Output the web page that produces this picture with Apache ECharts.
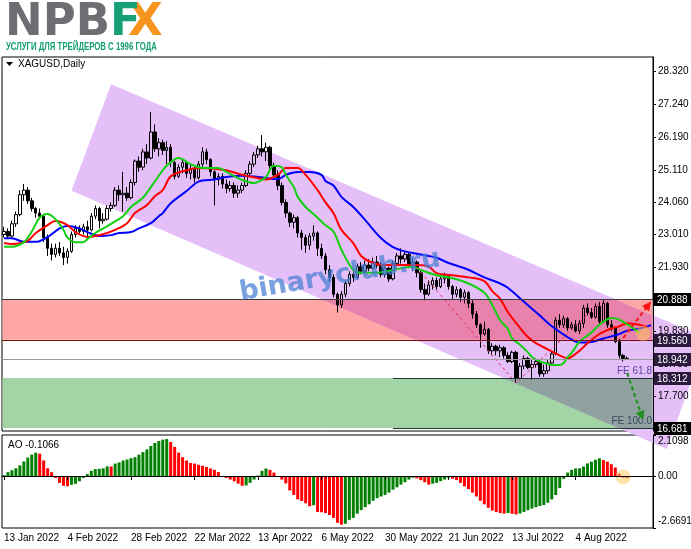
<!DOCTYPE html>
<html><head><meta charset="utf-8">
<script src="https://cdn.jsdelivr.net/npm/echarts/dist/echarts.min.js"></script>
<style>html,body{margin:0;padding:0;background:#fff}#c{width:691px;height:549px}</style>
</head><body><div id="c"></div><script>
// ---- categories: trading days
const monthDays = [
  ['Jan', [13,14,17,18,19,20,21,24,25,26,27,28,31]],
  ['Feb', [1,2,3,4,7,8,9,10,11,14,15,16,17,18,21,22,23,24,25,28]],
  ['Mar', [1,2,3,4,7,8,9,10,11,14,15,16,17,18,21,22,23,24,25,28,29,30,31]],
  ['Apr', [1,4,5,6,7,8,11,12,13,14,18,19,20,21,22,25,26,27,28,29]],
  ['May', [2,3,4,5,6,9,10,11,12,13,16,17,18,19,20,23,24,25,26,27,30,31]],
  ['Jun', [1,2,3,6,7,8,9,10,13,14,15,16,17,20,21,22,23,24,27,28,29,30]],
  ['Jul', [1,4,5,6,7,8,11,12,13,14,15,18,19,20,21,22,25,26,27,28,29]],
  ['Aug', [1,2,3,4,5,8,9,10,11,12,15,16,17,18,19,22,23,24,25,26,29,30,31]]
];
const dates = [];
monthDays.forEach(([m, days]) => days.forEach(d => dates.push(d + ' ' + m + ' 2022')));
const labelEvery = 16, lastLabel = 144;

// ---- OHLC (XAGUSD daily)
const opens = [
23.00,23.10,22.95,23.35,23.65,24.30,24.45,24.10,23.85,23.70,
23.60,22.90,22.55,22.35,22.55,22.40,22.25,22.45,23.00,23.20,
23.10,23.25,23.15,23.60,23.85,23.45,23.50,23.85,23.95,24.45,
24.30,24.35,24.20,24.70,25.40,25.20,25.70,25.50,26.35,25.80,
26.00,25.75,25.85,25.35,24.90,25.20,25.35,25.00,25.15,24.85,
25.30,25.70,25.45,25.05,24.80,24.90,24.65,24.50,24.60,24.35,
24.45,24.60,25.00,25.30,25.60,25.80,25.70,25.85,25.25,24.95,
24.60,24.05,23.70,23.40,23.55,23.05,22.90,22.65,22.95,23.05,
22.55,22.30,21.85,21.60,21.05,20.70,21.05,21.40,21.70,21.60,
21.95,21.80,22.00,21.90,22.10,22.00,21.70,21.90,21.55,22.05,
22.30,22.20,22.35,22.00,22.10,21.75,21.20,21.05,21.35,21.50,
21.30,21.55,21.65,21.30,21.05,21.20,20.95,21.10,20.75,20.40,
20.05,19.75,19.90,19.20,19.35,19.20,19.30,19.05,18.85,19.15,
18.30,18.70,18.95,18.65,18.75,18.85,18.45,18.55,18.80,19.10,
20.20,20.05,20.25,19.95,20.05,19.85,20.10,20.60,20.45,20.30,
20.65,20.15,20.75,20.05,19.95,19.50,19.05,18.95];
const closes = [
23.10,22.95,23.35,23.65,24.30,24.45,24.10,23.85,23.70,23.60,
22.90,22.55,22.35,22.55,22.40,22.25,22.45,23.00,23.20,23.10,
23.25,23.15,23.60,23.85,23.45,23.50,23.85,23.95,24.45,24.30,
24.35,24.20,24.70,25.40,25.20,25.70,25.50,26.35,25.80,26.00,
25.75,25.85,25.35,24.90,25.20,25.35,25.00,25.15,24.85,25.30,
25.70,25.45,25.05,24.80,24.90,24.65,24.50,24.60,24.35,24.45,
24.60,25.00,25.30,25.60,25.80,25.70,25.85,25.25,24.95,24.60,
24.05,23.70,23.40,23.55,23.05,22.90,22.65,22.95,23.05,22.55,
22.30,21.85,21.60,21.05,20.70,21.05,21.40,21.70,21.60,21.95,
21.80,22.00,21.90,22.10,22.00,21.70,21.90,21.55,22.05,22.30,
22.20,22.35,22.00,22.10,21.75,21.20,21.05,21.35,21.50,21.30,
21.55,21.65,21.30,21.05,21.20,20.95,21.10,20.75,20.40,20.05,
19.75,19.90,19.20,19.35,19.20,19.30,19.05,18.85,19.15,18.30,
18.70,18.95,18.65,18.75,18.85,18.45,18.55,18.80,19.10,20.20,
20.05,20.25,19.95,20.05,19.85,20.10,20.60,20.45,20.30,20.65,
20.15,20.75,20.05,19.95,19.50,19.05,18.95,18.942];
const lows = [
22.90,22.85,22.90,23.25,23.60,24.10,24.00,23.75,23.55,23.50,
22.75,22.30,22.15,22.25,22.30,22.00,22.05,22.40,22.90,23.00,
23.00,22.95,23.10,23.50,23.20,23.35,23.45,23.75,23.90,24.10,
23.75,24.10,24.15,24.60,25.05,25.10,25.30,25.45,25.70,25.55,
25.60,25.30,25.20,24.80,24.85,25.00,24.85,24.80,24.70,24.80,
25.20,25.30,24.90,23.95,24.60,24.50,24.35,24.40,24.20,24.20,
24.35,24.55,24.90,25.20,25.50,25.55,25.40,25.15,24.80,24.45,
23.95,23.55,23.25,23.20,22.90,22.50,22.40,22.50,22.80,22.30,
22.20,21.70,21.45,20.95,20.45,20.60,20.95,21.30,21.45,21.55,
21.70,21.75,21.80,21.85,21.90,21.60,21.60,21.45,21.50,21.95,
22.05,22.10,21.90,21.80,21.60,21.10,20.85,21.00,21.20,21.20,
21.25,21.40,21.20,20.90,20.95,20.80,20.75,20.60,20.25,19.95,
19.30,19.70,19.10,19.05,19.05,19.00,18.95,18.80,18.80,18.15,
18.25,18.60,18.60,18.25,18.65,18.35,18.35,18.45,18.75,19.05,
19.95,19.95,19.85,19.90,19.80,19.75,19.95,20.35,20.25,20.25,
20.05,20.10,19.95,19.85,19.45,18.95,18.85,18.90];
const highs = [
23.25,23.20,23.45,23.75,24.45,24.65,24.55,24.20,23.90,23.85,
23.65,23.00,22.70,22.70,22.75,22.60,22.55,23.10,23.30,23.30,
23.35,23.45,23.70,23.95,23.90,23.70,23.95,24.05,24.55,24.60,
25.05,24.55,24.80,25.45,25.55,25.80,25.95,27.00,26.60,26.15,
26.10,26.05,25.95,25.40,25.30,25.45,25.40,25.30,25.20,25.40,
25.85,25.80,25.50,25.10,25.00,25.00,24.80,24.75,24.70,24.60,
24.70,25.10,25.40,25.70,25.90,26.25,26.00,25.90,25.35,25.10,
24.70,24.15,23.75,23.65,23.60,23.15,23.00,23.05,23.30,23.10,
22.70,22.40,22.00,21.70,21.10,21.15,21.50,21.80,21.85,22.05,
22.10,22.15,22.20,22.25,22.30,22.10,22.05,21.95,22.15,22.40,
22.55,22.45,22.40,22.25,22.15,21.85,21.40,21.50,21.60,21.60,
21.65,21.75,21.70,21.35,21.30,21.25,21.20,21.15,20.85,20.50,
20.10,20.15,19.95,19.45,19.40,19.40,19.35,19.15,19.20,19.20,
18.80,19.05,19.00,18.90,18.95,18.90,18.75,18.90,19.20,20.30,
20.40,20.35,20.30,20.15,20.20,20.20,20.70,20.75,20.60,20.75,
20.80,20.85,20.80,20.20,20.00,19.60,19.10,19.02];

// ---- Alligator lines (bar index, value)
const lipsIdx = [0,2,5,7,9,11,13,15,16,18,20,21,23,25,27,30,32,35,37,40,41,44,47,49,52,54,56,60,63,64,66,68,70,71,73,74,76,79,81,83,85,88,90,94,98,100,103,105,109,113,117,121,123,125,127,128,130,132,133,135,137,138,140,141,142,143,145,148,150,153,155,158,160];
const lipsVal = [22.6,22.6,22.75,23.1,23.55,23.67,23.5,23.15,22.9,22.75,22.75,22.85,23.05,23.2,23.35,23.6,23.9,24.2,24.55,25.1,25.25,25.5,25.3,25.2,25.17,25.17,25.05,24.78,24.68,24.72,24.88,25.25,25.2,24.95,24.55,24.23,23.9,23.55,23.3,23.1,22.5,21.84,21.75,21.75,21.84,21.9,21.95,21.84,21.67,21.57,21.4,21.1,20.7,20.2,19.9,19.6,19.4,19.15,19.0,18.85,18.78,18.74,18.74,18.8,19.0,19.13,19.5,19.8,20.05,20.27,20.22,19.98,19.8];
const teethIdx = [0,2,6,8,11,13,16,18,21,23,26,28,31,33,36,38,40,42,46,49,53,56,60,64,66,69,71,74,76,79,81,83,85,88,90,93,96,100,104,107,109,113,117,121,123,125,127,130,132,134,137,140,142,144,145,147,150,153,155,157,160,162];
const teethVal = [22.72,22.69,22.8,23.05,23.31,23.44,23.31,23.08,22.92,22.95,23.05,23.15,23.37,23.7,23.96,24.25,24.45,24.9,25.1,25.17,25.15,25.1,24.95,24.84,24.8,24.95,25.17,25.17,24.95,24.45,24.05,23.7,23.15,22.72,22.3,22.07,22.0,22.0,22.0,21.95,21.74,21.67,21.6,21.48,21.15,20.9,20.45,19.95,19.65,19.45,19.25,19.05,18.95,19.1,19.2,19.45,19.75,19.93,20.0,20.1,20.05,19.97];
const jawIdx = [0,2,5,8,11,14,16,19,21,24,27,29,32,34,37,39,40,42,46,49,53,56,60,64,69,71,74,77,80,81,83,85,88,91,95,98,101,105,107,109,112,117,121,125,127,131,135,138,142,145,148,151,155,157,160,163];
const jawVal = [22.88,22.88,22.76,22.76,22.92,23.2,23.28,23.2,23.08,22.95,22.98,23.05,23.08,23.2,23.37,23.6,23.7,24.02,24.42,24.73,24.8,24.88,24.92,24.88,24.81,24.95,25.04,25.04,24.95,24.75,24.6,24.23,23.9,23.47,22.88,22.59,22.45,22.35,22.3,22.24,22.07,21.85,21.6,21.4,21.25,20.8,20.35,20.0,19.65,19.47,19.49,19.6,19.75,19.86,19.92,20.04];

// ---- Awesome Oscillator
const aoValues = [
0.05,0.2,0.3,0.4,0.55,0.75,0.95,1.1,1.2,1.15,
0.8,0.4,0.2,-0.1,-0.35,-0.5,-0.52,-0.45,-0.4,-0.27,
-0.1,0.1,0.27,0.36,0.37,0.4,0.5,0.49,0.64,0.7,
0.8,0.85,0.92,0.97,1.1,1.23,1.37,1.55,1.7,1.8,
1.87,1.9,1.75,1.5,1.2,0.97,0.8,0.67,0.64,0.58,
0.53,0.47,0.39,0.32,0.21,-0.02,-0.1,-0.18,-0.27,-0.39,
-0.5,-0.48,-0.35,-0.18,0.03,0.27,0.39,0.32,0.18,-0.02,
-0.18,-0.38,-0.74,-0.97,-1.2,-1.28,-1.4,-1.55,-1.5,-1.85,
-1.86,-1.9,-2.0,-2.15,-2.4,-2.5,-2.45,-2.25,-2.15,-1.93,
-1.75,-1.6,-1.45,-1.27,-1.14,-1.05,-0.97,-0.85,-0.7,-0.58,
-0.44,-0.32,-0.18,-0.09,-0.12,-0.21,-0.32,-0.44,-0.39,-0.35,
-0.26,-0.18,-0.09,-0.14,-0.21,-0.35,-0.53,-0.67,-0.85,-1.05,
-1.27,-1.45,-1.63,-1.77,-1.85,-1.9,-1.93,-1.9,-1.94,-1.97,
-1.92,-1.84,-1.75,-1.67,-1.6,-1.54,-1.49,-1.37,-1.2,-0.97,
-0.62,-0.14,0.18,0.32,0.39,0.4,0.49,0.65,0.74,0.84,
0.91,0.82,0.74,0.61,0.44,0.12,-0.09,-0.1066];

// ---- axis ticks
const priceTicks = [28.32, 27.24, 26.19, 25.11, 24.06, 23.01, 21.93, 19.83, 18.75, 17.70];
const aoMax = 2.1098, aoMin = -2.6691;
const aoTicks = [aoMax, 0, aoMin];

// ---- drawing objects (bar index, price)
const levelPrices = [20.888, 19.560, 18.942, 18.312, 16.681];
const levelStart = [0, 0, 0, 98, 98];
const levelText = ['', '', '', 'FE 61.8', 'FE 100.0'];
const zoneLow = [19.560, 16.681];
const zoneHigh = [20.888, 18.312];
const channelIdx = [27, 177, 167, 17];
const channelPrice = [27.91, 19.61, 15.99, 24.43];
const feIdx = [103, 129, 150];
const feVal = [22.07, 18.15, 20.75];
const arrowFromIdx = [156, 157], arrowFromVal = [19.62, 18.47];
const arrowToIdx = [163, 161], arrowToVal = [20.81, 16.94];
const markMain = [[161, 19.77]];
const markAO = [[156, -0.05]];

const FONT = '"Liberation Sans", Arial, sans-serif';
const levelLine = ['#3a3a3a', '#7a0c0c', '#9a9a9a', '#1f3535', '#1f3535'];
const levelBox = ['#000000', '#2b1a3e', '#2b1a3e', '#2b1a3e', '#000000'];
const levelTextColor = ['', '', '', '#5a48a0', '#3a4864'];
const zoneFill = ['#ffa6a6', '#a3d4a5'];
const channelFill = '#e5c0f8';
const overlapFill = ['#e882ac', '#90a29f'];
const arrowColor = ['#ff1010', '#1f8f1f'];

function clipHalf(pts, inside, cut) {
  const out = [];
  for (let i = 0; i < pts.length; i++) {
    const a = pts[i], b = pts[(i + 1) % pts.length];
    const ia = inside(a), ib = inside(b);
    if (ia) out.push(a);
    if (ia !== ib) out.push(cut(a, b));
  }
  return out;
}
function clipToRect(pts, x0, x1, y0, y1) {
  const atX = (a, b, x) => [x, a[1] + (b[1] - a[1]) * (x - a[0]) / (b[0] - a[0])];
  const atY = (a, b, y) => [a[0] + (b[0] - a[0]) * (y - a[1]) / (b[1] - a[1]), y];
  pts = clipHalf(pts, p => p[0] >= x0, (a, b) => atX(a, b, x0));
  pts = clipHalf(pts, p => p[0] <= x1, (a, b) => atX(a, b, x1));
  pts = clipHalf(pts, p => p[1] >= y0, (a, b) => atY(a, b, y0));
  pts = clipHalf(pts, p => p[1] <= y1, (a, b) => atY(a, b, y1));
  return pts;
}

const chart = echarts.init(document.getElementById('c'), null, {renderer: 'canvas'});
const catN = dates.length;
const showDate = idx => idx % labelEvery === 0 && idx <= lastLabel;

const option = {
  animation: false,
  backgroundColor: '#ffffff',
  grid: [
    {left: 2, right: 38, top: 57, height: 374, show: true, borderColor: '#000', borderWidth: 1, backgroundColor: 'transparent', outerBoundsMode: 'none', containLabel: false},
    {left: 2, right: 38, top: 435, height: 93, show: true, borderColor: '#000', borderWidth: 1, backgroundColor: 'transparent', outerBoundsMode: 'none', containLabel: false}
  ],
  xAxis: [
    {type: 'category', gridIndex: 0, data: dates, boundaryGap: true, min: 0, max: catN - 1, show: false},
    {type: 'category', gridIndex: 1, data: dates, boundaryGap: true, min: 0, max: catN - 1, z: 10,
      axisLine: {show: true, lineStyle: {color: '#000', width: 1}},
      axisTick: {show: true, interval: showDate, alignWithLabel: true, length: 4, lineStyle: {color: '#000'}},
      axisLabel: {interval: showDate, align: 'left', margin: 5, color: '#000', fontSize: 10, fontFamily: FONT, hideOverlap: false},
      splitLine: {show: false}}
  ],
  yAxis: [
    {type: 'value', gridIndex: 0, position: 'right', min: 16.58, max: 28.80, z: 10,
      axisLine: {show: true, lineStyle: {color: '#000'}},
      axisTick: {show: true, length: 3, customValues: priceTicks, lineStyle: {color: '#000'}},
      axisLabel: {customValues: priceTicks, formatter: v => v.toFixed(3), color: '#000', fontSize: 10, fontFamily: FONT, margin: 5},
      splitLine: {show: false}},
    {type: 'value', gridIndex: 1, position: 'right', min: aoMin - 0.00005, max: aoMax + 0.00005, z: 10,
      axisLine: {show: true, lineStyle: {color: '#000'}},
      axisTick: {show: true, length: 3, customValues: aoTicks, lineStyle: {color: '#000'}},
      axisLabel: {customValues: aoTicks, color: '#000', fontSize: 10, fontFamily: FONT, margin: 5, showMinLabel: true, showMaxLabel: true,
        formatter: v => (Math.abs(v) < 1e-9 ? '{m|0.00}' : (v > 0 ? '{t|' + v.toFixed(4) + '}' : '{b|' + v.toFixed(4) + '}')),
        rich: {
          t: {fontSize: 10, fontFamily: FONT, color: '#000', padding: [12, 0, 0, 0]},
          m: {fontSize: 10, fontFamily: FONT, color: '#000'},
          b: {fontSize: 10, fontFamily: FONT, color: '#000', padding: [0, 0, 14, 0]}
        }},
      splitLine: {show: false}}
  ],
  series: [
    // zones + channel + overlaps (behind the bars)
    {type: 'custom', xAxisIndex: 0, yAxisIndex: 0, z: 1, clip: false,
      data: channelIdx.map((x, k) => [x, channelPrice[k]]),
      encode: {x: 0, y: 1},
      renderItem: (params, api) => {
        if (params.dataIndex !== 0) return null;
        const cs = params.coordSys;
        const x0 = cs.x + 0.5, x1 = cs.x + cs.width - 0.5;
        const chan = channelIdx.map((x, k) => api.coord([x, channelPrice[k]]));
        const children = [];
        zoneLow.forEach((lo, k) => {
          const yTop = api.coord([0, zoneHigh[k]])[1];
          const yBot = api.coord([0, lo])[1];
          children.push({type: 'rect', shape: {x: x0, y: yTop, width: x1 - x0, height: yBot - yTop}, style: {fill: zoneFill[k]}});
        });
        children.push({type: 'polygon', shape: {points: chan}, style: {fill: channelFill}});
        zoneLow.forEach((lo, k) => {
          const yTop = api.coord([0, zoneHigh[k]])[1];
          const yBot = api.coord([0, lo])[1];
          const part = clipToRect(chan, x0, x1, yTop, yBot);
          if (part.length > 2) children.push({type: 'polygon', shape: {points: part}, style: {fill: overlapFill[k]}});
        });
        return {type: 'group', children: children};
      }},
    {type: 'candlestick', xAxisIndex: 0, yAxisIndex: 0, z: 2, barWidth: 3,
      data: opens.map((o, i) => [o, closes[i], lows[i], highs[i]]),
      itemStyle: {color: 'rgba(0,0,0,0)', color0: '#000000', borderColor: '#000000', borderColor0: '#000000', borderWidth: 1}},
    {type: 'line', name: 'jaw', xAxisIndex: 0, yAxisIndex: 0, z: 3, symbol: 'none', smooth: 0.35,
      data: jawIdx.map((x, k) => [x, jawVal[k]]), lineStyle: {color: '#0000ff', width: 2}},
    {type: 'line', name: 'teeth', xAxisIndex: 0, yAxisIndex: 0, z: 3, symbol: 'none', smooth: 0.35,
      data: teethIdx.map((x, k) => [x, teethVal[k]]), lineStyle: {color: '#ff0000', width: 2}},
    {type: 'line', name: 'lips', xAxisIndex: 0, yAxisIndex: 0, z: 3, symbol: 'none', smooth: 0.35,
      data: lipsIdx.map((x, k) => [x, lipsVal[k]]), lineStyle: {color: '#10d010', width: 2}},
    // FE dashed construction lines
    {type: 'line', xAxisIndex: 0, yAxisIndex: 0, z: 14, symbol: 'none',
      data: feIdx.map((x, k) => [x, feVal[k]]), lineStyle: {color: '#e0305a', width: 1, type: [3, 3]}},
    // levels with price boxes
    {type: 'custom', xAxisIndex: 0, yAxisIndex: 0, z: 20, clip: false,
      data: levelPrices.map((p, k) => [levelStart[k], p, k]),
      encode: {x: 0, y: 1},
      renderItem: (params, api) => {
        const cs = params.coordSys;
        const k = api.value(2);
        const p = api.value(1);
        const y = Math.round(api.coord([0, p])[1]) + 0.5;
        const xs = levelStart[k] === 0 ? cs.x : api.coord([levelStart[k], p])[0];
        const xe = cs.x + cs.width;
        const ch = [
          {type: 'line', shape: {x1: xs, y1: y, x2: xe, y2: y}, style: {stroke: levelLine[k], lineWidth: 1.2}},
          {type: 'rect', shape: {x: xe + 1, y: y - 6.5, width: 38, height: 13}, style: {fill: levelBox[k]}},
          {type: 'text', x: xe + 4, y: y + 0.5, style: {text: p.toFixed(3), fill: '#ffffff', font: '10px ' + FONT, verticalAlign: 'middle'}}
        ];
        if (levelText[k]) {
          ch.push({type: 'text', x: xe - 1, y: y - 2, style: {text: levelText[k], fill: levelTextColor[k], font: '10px ' + FONT, align: 'right', verticalAlign: 'bottom'}});
        }
        return {type: 'group', children: ch};
      }},
    // projection arrows
    {type: 'custom', xAxisIndex: 0, yAxisIndex: 0, z: 21, clip: false,
      data: arrowFromIdx.map((x, k) => [x, arrowFromVal[k], arrowToIdx[k], arrowToVal[k], k]),
      encode: {x: 0, y: 1},
      renderItem: (params, api) => {
        const k = api.value(4);
        const a = api.coord([api.value(0), api.value(1)]);
        const b = api.coord([api.value(2), api.value(3)]);
        const dx = b[0] - a[0], dy = b[1] - a[1];
        const L = Math.sqrt(dx * dx + dy * dy), ux = dx / L, uy = dy / L;
        const hl = 9, hw = 4.5;
        const bx = b[0] - ux * hl, by = b[1] - uy * hl;
        return {type: 'group', children: [
          {type: 'line', shape: {x1: a[0], y1: a[1], x2: bx, y2: by}, style: {stroke: arrowColor[k], lineWidth: 2, lineDash: [4, 3]}},
          {type: 'polygon', shape: {points: [[b[0], b[1]], [bx - uy * hw, by + ux * hw], [bx + uy * hw, by - ux * hw]]}, style: {fill: arrowColor[k]}}
        ]};
      }},
    {type: 'scatter', xAxisIndex: 0, yAxisIndex: 0, z: 22, symbolSize: 15, data: markMain,
      itemStyle: {color: 'rgba(255,200,90,0.65)'}},
    // AO histogram
    {type: 'bar', xAxisIndex: 1, yAxisIndex: 1, z: 2, barWidth: 3, data: aoValues,
      itemStyle: {color: p => (p.dataIndex === 0 || aoValues[p.dataIndex] > aoValues[p.dataIndex - 1]) ? '#008000' : '#ff0000'}},
    {type: 'scatter', xAxisIndex: 1, yAxisIndex: 1, z: 5, symbolSize: 15, data: markAO,
      itemStyle: {color: 'rgba(255,200,90,0.65)'}}
  ],
  graphic: [
    {type: 'text', x: 5, y: 23, z: 50, style: {text: 'NPB', font: 'bold 45px "DejaVu Sans"', fill: '#6d6e71', verticalAlign: 'middle'}},
    {type: 'text', x: 128, y: 23, z: 50, style: {text: 'X', font: 'bold 45px "DejaVu Sans"', fill: '#f7941d', verticalAlign: 'middle'}},
    {type: 'text', x: 110, y: 23, z: 51, style: {text: 'F', font: 'bold 45px "DejaVu Sans"', fill: '#17a077', verticalAlign: 'middle'}},
    {type: 'text', x: 6, y: 47, z: 50, scaleX: 0.78, style: {text: 'УСЛУГИ ДЛЯ ТРЕЙДЕРОВ С 1996 ГОДА', font: 'bold 10px ' + FONT, fill: '#15a06d', verticalAlign: 'middle'}},
    {type: 'polygon', z: 50, shape: {points: [[6, 62], [13, 62], [9.5, 66]]}, style: {fill: '#000'}},
    {type: 'text', x: 18, y: 64.5, z: 50, style: {text: 'XAGUSD,Daily', font: '10px ' + FONT, fill: '#000', verticalAlign: 'middle'}},
    {type: 'text', x: 8, y: 445, z: 50, style: {text: 'AO -0.1066', font: '10px ' + FONT, fill: '#000', verticalAlign: 'middle'}},
    {type: 'text', x: 340, y: 276, z: 60, rotation: 0.17, style: {text: 'binaryclub.ru', font: 'bold 27px "DejaVu Sans"', fill: 'rgba(70,125,210,0.72)', align: 'center', verticalAlign: 'middle'}}
  ]
};
chart.setOption(option);
</script></body></html>
